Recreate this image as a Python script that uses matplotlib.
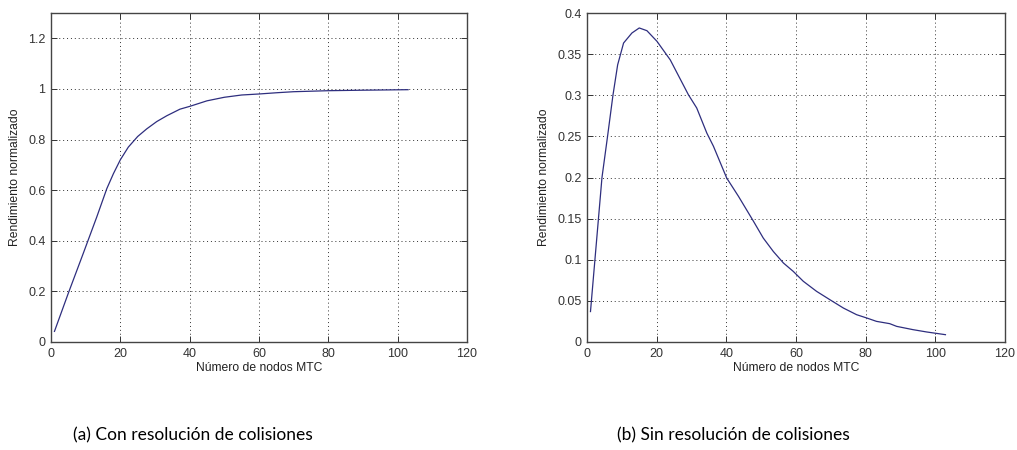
import matplotlib
matplotlib.use("Agg")
import matplotlib.pyplot as plt

# --- data ---
x_a = [1, 5, 9.3, 13.2, 16.1, 18, 20, 22.3, 25, 27.6, 30.5, 33.4, 37.2, 40, 45,
       50, 55, 60, 65.2, 70, 80, 90.2, 103]
y_a = [0.042, 0.193, 0.35, 0.494, 0.606, 0.665, 0.72, 0.77, 0.812, 0.842, 0.871,
       0.894, 0.92, 0.931, 0.953, 0.967, 0.976, 0.98, 0.985, 0.989, 0.993, 0.995, 0.997]

x_b = [1, 4.3, 5.9, 7.45, 8.8, 10.5, 12.9, 15.0, 17.2, 20.1, 23.9, 29.1, 31.5, 34.4,
       36.3, 40.1, 43.5, 47.8, 50.6, 53.5, 56.4, 59.2, 62.1, 65.9, 69.7, 73.6, 77.4,
       80.3, 83.1, 86.9, 88.9, 93.6, 97.5, 102.9]
y_b = [0.037, 0.2, 0.25, 0.3, 0.337, 0.3635, 0.3757, 0.3818, 0.3785, 0.3655, 0.343,
       0.3007, 0.2845, 0.254, 0.238, 0.1994, 0.177, 0.1467, 0.1264, 0.110, 0.096,
       0.0859, 0.0738, 0.0616, 0.0515, 0.0413, 0.0332, 0.0292, 0.0251, 0.0223, 0.019,
       0.015, 0.0122, 0.0089]

xticks = [0, 20, 40, 60, 80, 100, 120]
yticks_a = [0, 0.2, 0.4, 0.6, 0.8, 1.0, 1.2]
yticklabels_a = ["0", "0.2", "0.4", "0.6", "0.8", "1", "1.2"]
yticks_b = [0, 0.05, 0.1, 0.15, 0.2, 0.25, 0.3, 0.35, 0.4]
yticklabels_b = ["0", "0.05", "0.1", "0.15", "0.2", "0.25", "0.3", "0.35", "0.4"]
xlabel = "Número de nodos MTC"
ylabel = "Rendimiento normalizado"
captions = ["(a) Con resolución de colisiones", "(b) Sin resolución de colisiones"]

W, H = 1017, 450
fig = plt.figure(figsize=(W / 100, H / 100), dpi=100)
fig.patch.set_facecolor("white")

tick_font = dict(family="Liberation Sans", size=9, color="#222222")
label_font = dict(family="Liberation Sans", size=8.7, color="#222222")
line_color = "#2e2e7e"


def make_axes(rect, xs, ys, yticks, ylabels, ylim):
    ax = fig.add_axes(rect)
    ax.plot(xs, ys, color=line_color, lw=0.9)
    ax.set_xlim(0, 120)
    ax.set_ylim(*ylim)
    ax.set_xticks(xticks)
    ax.set_xticklabels([str(t) for t in xticks], fontdict=tick_font)
    ax.set_yticks(yticks)
    ax.set_yticklabels(ylabels, fontdict=tick_font)
    ax.tick_params(direction="in", length=4, width=0.7, top=True, right=True,
                   pad=4, colors="#333333")
    ax.grid(True, linestyle=(0, (1, 3)), color="#333333", lw=0.7)
    for s in ax.spines.values():
        s.set_color("#444444")
        s.set_linewidth(1.0)
    ax.set_xlabel(xlabel, fontdict=label_font, labelpad=2)
    ax.set_ylabel(ylabel, fontdict=label_font, labelpad=5)
    return ax


def rect(l, r, t, b):
    return [l / W, (H - b) / H, (r - l) / W, (b - t) / H]


ax1 = make_axes(rect(51, 467, 13, 342), x_a, y_a, yticks_a, yticklabels_a, (0, 1.3))
ax2 = make_axes(rect(587, 1005, 13, 342), x_b, y_b, yticks_b, yticklabels_b, (0, 0.4))

cap_font = dict(family="Lato", size=12.5, color="black")
fig.text(192.5 / W, 1 - 435 / H, captions[0], ha="center", va="center", **cap_font)
fig.text(733.5 / W, 1 - 435 / H, captions[1], ha="center", va="center", **cap_font)

fig.savefig("out.png", dpi=100, facecolor="white")
